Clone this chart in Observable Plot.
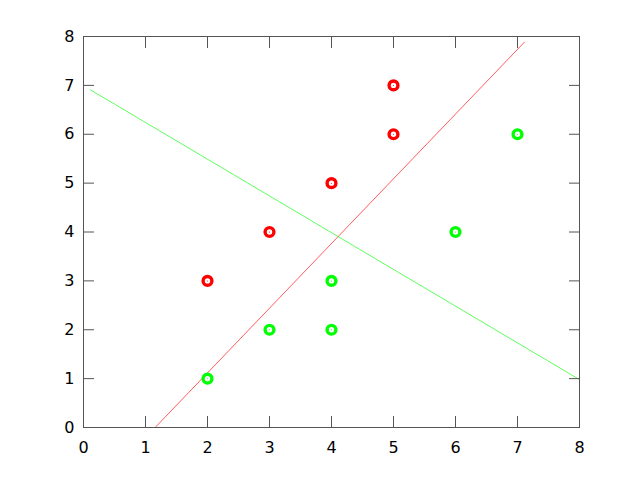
<!DOCTYPE html>
<html>
<head>
<meta charset="utf-8">
<script src="https://cdn.jsdelivr.net/npm/d3@7"></script>
<script src="https://cdn.jsdelivr.net/npm/@observablehq/plot@0.6"></script>
<style>
  html, body { margin: 0; padding: 0; background: #fff; }
</style>
</head>
<body>
<div id="chart"></div>
<script>
// Data
const redX = [2, 3, 4, 5, 5];
const redY = [3, 4, 5, 6, 7];
const greenX = [2, 3, 4, 4, 6, 7];
const greenY = [1, 2, 2, 3, 4, 6];
const redLineX = [1.156, 7.113];
const redLineY = [0, 7.886];
const greenLineX = [0.11, 8];
const greenLineY = [6.91, 0.98];
const xTicks = [0, 1, 2, 3, 4, 5, 6, 7, 8];
const yTicks = [0, 1, 2, 3, 4, 5, 6, 7, 8];

const zip = (xs, ys) => xs.map((x, i) => ({x, y: ys[i]}));
const redPts = zip(redX, redY);
const greenPts = zip(greenX, greenY);
const redLine = zip(redLineX, redLineY);
const greenLine = zip(greenLineX, greenLineY);

const tickColor = "#555";

const chart = Plot.plot({
  width: 640,
  height: 480,
  marginLeft: 83,
  marginRight: 61,
  marginTop: 36,
  marginBottom: 53,
  style: {fontFamily: "DejaVu Sans", fontSize: "16px", color: "#000", background: "#fff"},
  x: {domain: [0, 8]},
  y: {domain: [0, 8]},
  marks: [
    Plot.line(redLine, {x: "x", y: "y", stroke: "#ff0000", strokeWidth: 0.8, strokeOpacity: 0.8}),
    Plot.line(greenLine, {x: "x", y: "y", stroke: "#00ff00", strokeWidth: 0.8, strokeOpacity: 0.8}),
    Plot.dot(redPts, {x: "x", y: "y", r: 4.4, stroke: "#ff0000", strokeWidth: 3.4}),
    Plot.dot(greenPts, {x: "x", y: "y", r: 4.4, stroke: "#00ff00", strokeWidth: 3.4}),
    Plot.dot(redPts, {x: "x", y: "y", r: 0.5, fill: "#ff0000", stroke: null}),
    Plot.dot(greenPts, {x: "x", y: "y", r: 0.5, fill: "#00ff00", stroke: null}),
    Plot.frame({stroke: tickColor, strokeWidth: 1}),
    Plot.axisX(xTicks, {anchor: "bottom", tickSize: -11, stroke: tickColor, tickFormat: () => "", label: null}),
    Plot.axisX(xTicks, {anchor: "top", tickSize: -11, stroke: tickColor, tickFormat: () => "", label: null}),
    Plot.axisY(yTicks, {anchor: "left", tickSize: -11, stroke: tickColor, tickFormat: () => "", label: null}),
    Plot.axisY(yTicks, {anchor: "right", tickSize: -11, stroke: tickColor, tickFormat: () => "", label: null}),
    Plot.axisX(xTicks, {anchor: "bottom", tickSize: 0, tickPadding: 14, label: null, fill: "#000", fontSize: 16, fontFamily: "DejaVu Sans"}),
    Plot.axisY(yTicks, {anchor: "left", tickSize: 0, tickPadding: 9, label: null, fill: "#000", fontSize: 16, fontFamily: "DejaVu Sans"})
  ]
});
document.getElementById("chart").appendChild(chart);
</script>
</body>
</html>
